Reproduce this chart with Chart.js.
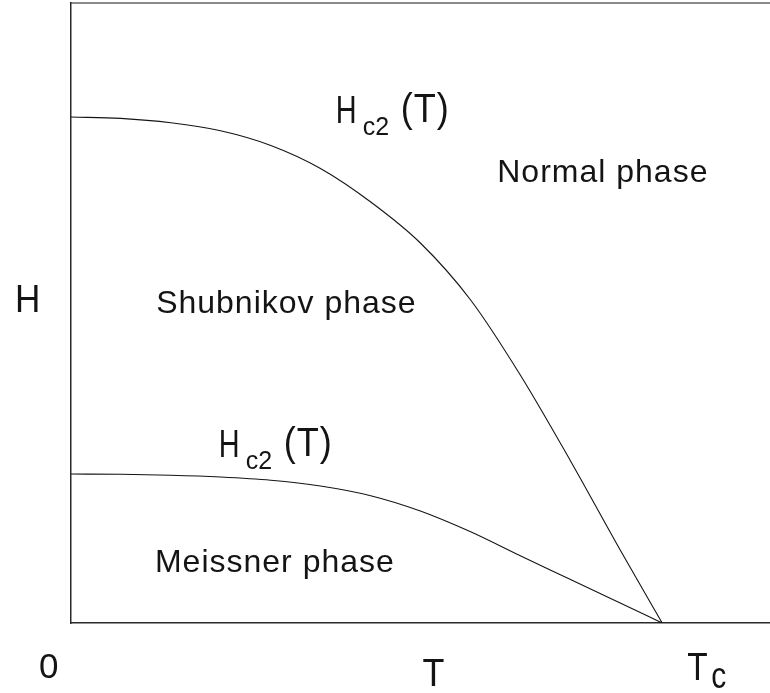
<!DOCTYPE html>
<html>
<head>
<meta charset="utf-8">
<script src="https://cdn.jsdelivr.net/npm/chart.js@4/dist/chart.umd.min.js"></script>
<style>
  html, body { margin: 0; padding: 0; background: #fff; }
  #wrap { width: 770px; height: 693px; position: relative; }
</style>
</head>
<body>
<div id="wrap"><canvas id="c"></canvas></div>
<script>
// Temperature in units of Tc, field in arbitrary units
const tSamples = [0, 0.084, 0.169, 0.253, 0.338, 0.422, 0.507, 0.591, 0.676, 0.760, 0.845, 0.929, 1];
const hUpper = [5.06, 5.046, 5.002, 4.922, 4.775, 4.545, 4.21, 3.80, 3.23, 2.48, 1.62, 0.73, 0];
const hLower = [1.49, 1.487, 1.478, 1.46, 1.428, 1.37, 1.273, 1.12, 0.912, 0.672, 0.435, 0.20, 0];

// Axis labels and region names
const xTickLabels = ['0', 'T', 'T', 'c'];
const yAxisLabel = 'H';
const phaseNames = ['Normal phase', 'Shubnikov phase', 'Meissner phase'];
const curveLabel = ['H', 'c2', '(T)'];

const T_MAX = 1.1824;
const H_MAX = 6.2;

const toPts = (xs, ys) => xs.map((x, i) => ({ x: x, y: ys[i] }));

const INK = '#141414';
const FONT = '"Liberation Sans", Arial, Helvetica, sans-serif';

function text(ctx, s, x, y, size, opt) {
  opt = opt || {};
  ctx.save();
  ctx.font = size + 'px ' + FONT;
  ctx.fillStyle = INK;
  ctx.textBaseline = 'alphabetic';
  ctx.textAlign = opt.align || 'left';
  ctx.letterSpacing = (opt.spacing || 0) + 'px';
  ctx.translate(x, y);
  ctx.scale(opt.sx || 1, opt.sy || 1);
  ctx.fillText(s, 0, 0);
  ctx.restore();
}

const labelsPlugin = {
  id: 'phaseLabels',
  afterDraw(chart) {
    const ctx = chart.ctx;
    const xs = chart.scales.x, ys = chart.scales.y;
    const px = v => xs.getPixelForValue(v);
    const py = v => ys.getPixelForValue(v);
    const left = chart.chartArea.left, bottom = chart.chartArea.bottom;

    // region names
    text(ctx, phaseNames[0], px(0.721), py(4.41), 32, { spacing: 1 });
    text(ctx, phaseNames[1], px(0.144), py(3.10), 32, { spacing: 1 });
    text(ctx, phaseNames[2], px(0.142), py(0.51), 32, { spacing: 1 });

    // critical field curve labels
    const hc = (x, y) => {
      text(ctx, curveLabel[0], x, y, 39, { sx: 0.74 });
      text(ctx, curveLabel[1], x + 27, y + 12, 25);
      text(ctx, curveLabel[2], x + 65, y - 1, 38, { sx: 0.95, sy: 1.08, spacing: 1 });
    };
    hc(px(0.448), py(5.00));
    hc(px(0.250), py(1.66));

    // axis labels
    text(ctx, xTickLabels[0], left - 32, bottom + 55, 35);
    text(ctx, xTickLabels[1], px(0.613), bottom + 63, 39, { align: 'center', sx: 0.92 });
    text(ctx, xTickLabels[2], px(1) + 25, bottom + 57, 38, { sx: 0.88 });
    text(ctx, xTickLabels[3], px(1) + 49, bottom + 65, 30, { sy: 1.2 });
    text(ctx, yAxisLabel, left - 56, py(3.11), 39, { sx: 0.9 });
  }
};

const lineStyle = {
  showLine: true,
  borderColor: INK,
  borderWidth: 1.1,
  pointRadius: 0,
  fill: false,
  cubicInterpolationMode: 'monotone'
};

new Chart(document.getElementById('c'), {
  type: 'scatter',
  data: {
    datasets: [
      Object.assign({ label: 'Hc2', data: toPts(tSamples, hUpper) }, lineStyle),
      Object.assign({ label: 'Hc1', data: toPts(tSamples, hLower) }, lineStyle)
    ]
  },
  options: {
    responsive: true,
    maintainAspectRatio: false,
    animation: false,
    layout: { padding: { left: 71, top: 3, right: 0, bottom: 70 } },
    plugins: { legend: { display: false }, tooltip: { enabled: false } },
    scales: {
      x: {
        type: 'linear', min: 0, max: T_MAX, position: 'bottom',
        ticks: { display: false },
        grid: { display: false, drawTicks: false },
        border: { display: true, color: '#2a2a2a', width: 1.5 }
      },
      xTop: {
        type: 'linear', min: 0, max: T_MAX, position: 'top',
        ticks: { display: false },
        grid: { display: false, drawTicks: false },
        border: { display: true, color: '#8a8a8a', width: 2 }
      },
      y: {
        type: 'linear', min: 0, max: H_MAX,
        ticks: { display: false },
        grid: { display: false, drawTicks: false },
        border: { display: true, color: '#2a2a2a', width: 1.5 }
      }
    }
  },
  plugins: [labelsPlugin]
});
</script>
</body>
</html>
